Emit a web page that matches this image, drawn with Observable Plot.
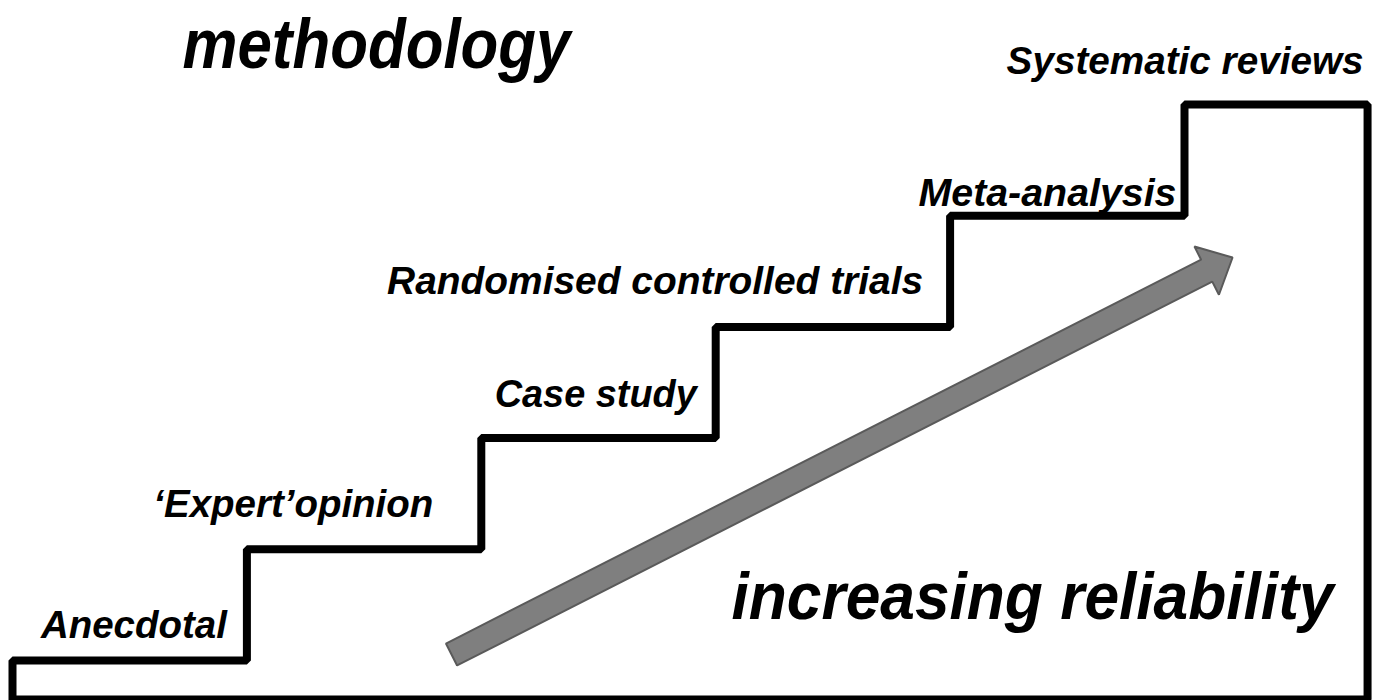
<!DOCTYPE html>
<html><head><meta charset="utf-8">
<script src="https://cdn.jsdelivr.net/npm/d3@7"></script>
<script src="https://cdn.jsdelivr.net/npm/@observablehq/plot@0.6"></script>
<style>body{margin:0;background:#fff;} svg{display:block;}</style>
</head><body><div id="chart"></div>
<script>
// ---- data ----
const steps = ["Anecdotal", "\u2018Expert\u2019opinion", "Case study", "Randomised controlled trials", "Meta-analysis", "Systematic reviews"];
const stepLevel = [0, 1, 2, 3, 4, 5];
const stepFrom = [0, 1, 2, 3, 4, 5];
const stepTo = [1, 2, 3, 4, 5, 5.781];
const floorLevel = -0.351;
const arrowFrom = [1.873, 0.054];
const arrowTo = [5.205, 3.624];
const titleTop = "methodology";
const titleBottom = "increasing reliability";

// label layout (pixels): nudges from the riser/tread corner and rendered text widths
const labelDx = [-20, -48, -19, -27, -8, -4];
const labelDy = [-23, -32, -31, -33, -10, -31];
const labelWidth = [186, 280, 202, 536, 258, 357];

// ---- scales config ----
const W = 1383, H = 700;
const xCfg = {domain: [0, 5], range: [12, 1184]};
const yCfg = {domain: [0, 5], range: [660, 104]};
const xs = d3.scaleLinear(xCfg.domain, xCfg.range);
const ys = d3.scaleLinear(yCfg.domain, yCfg.range);

// staircase outline
const outline = [{x: stepFrom[0], y: floorLevel}];
steps.forEach((s, i) => {
  outline.push({x: stepFrom[i], y: stepLevel[i]});
  outline.push({x: stepTo[i], y: stepLevel[i]});
});
outline.push({x: stepTo[steps.length - 1], y: floorLevel});
outline.push({x: stepFrom[0], y: floorLevel});

// arrow polygon (built in pixel space, converted back to data units)
const shaftHalf = 12.3, headHalf = 27, headLen = 29;
const T = [xs(arrowFrom[0]), ys(arrowFrom[1])];
const P = [xs(arrowTo[0]), ys(arrowTo[1])];
const L = Math.hypot(P[0] - T[0], P[1] - T[1]);
const u = [(P[0] - T[0]) / L, (P[1] - T[1]) / L];
const n = [-u[1], u[0]];
const B = [P[0] - u[0] * headLen, P[1] - u[1] * headLen];
const add = (p, k) => [p[0] + n[0] * k, p[1] + n[1] * k];
const arrowPx = [add(T, shaftHalf), add(B, shaftHalf), add(B, headHalf), P, add(B, -headHalf), add(B, -shaftHalf), add(T, -shaftHalf)];
const arrowPoly = arrowPx.map(p => ({x: xs.invert(p[0]), y: ys.invert(p[1])}));

const labels = steps.map((s, i) => ({label: s, x: stepTo[i], y: stepLevel[i], dx: labelDx[i], dy: labelDy[i]}));

const font = {fontFamily: "'Liberation Sans', Arial, sans-serif", fontWeight: "bold", fontStyle: "italic", fill: "#000"};

const chart = Plot.plot({
  width: W, height: H,
  margin: 0,
  x: {...xCfg, axis: null},
  y: {...yCfg, axis: null},
  style: {background: "#fff", overflow: "visible"},
  marks: [
    Plot.line(arrowPoly, {x: "x", y: "y", curve: "linear-closed", fill: "#7f7f7f", stroke: "#5a5a5a", strokeWidth: 2, strokeLinejoin: "miter"}),
    Plot.line(outline, {x: "x", y: "y", stroke: "#000", strokeWidth: 8, strokeLinejoin: "miter", strokeLinecap: "square"}),
    ...labels.map(d => Plot.text([d], {x: "x", y: "y", text: "label", textAnchor: "end", lineAnchor: "bottom", dx: d.dx, dy: d.dy, fontSize: 38, ...font})),
    Plot.text([titleTop], {frameAnchor: "top-left", textAnchor: "start", lineAnchor: "bottom", dx: 182, dy: 67, fontSize: 70, ...font}),
    Plot.text([titleBottom], {frameAnchor: "top-left", textAnchor: "start", lineAnchor: "bottom", dx: 731, dy: 618, fontSize: 66, ...font})
  ]
});

// fit text widths to the reference (condensed lettering)
const widths = new Map(steps.map((s, i) => [s, labelWidth[i]]));
widths.set(titleTop, 388);
widths.set(titleBottom, 602);
chart.querySelectorAll("text").forEach(t => {
  const w = widths.get(t.textContent);
  if (w) { t.setAttribute("textLength", w); t.setAttribute("lengthAdjust", "spacingAndGlyphs"); }
});
document.getElementById("chart").appendChild(chart);
</script>
</body></html>
